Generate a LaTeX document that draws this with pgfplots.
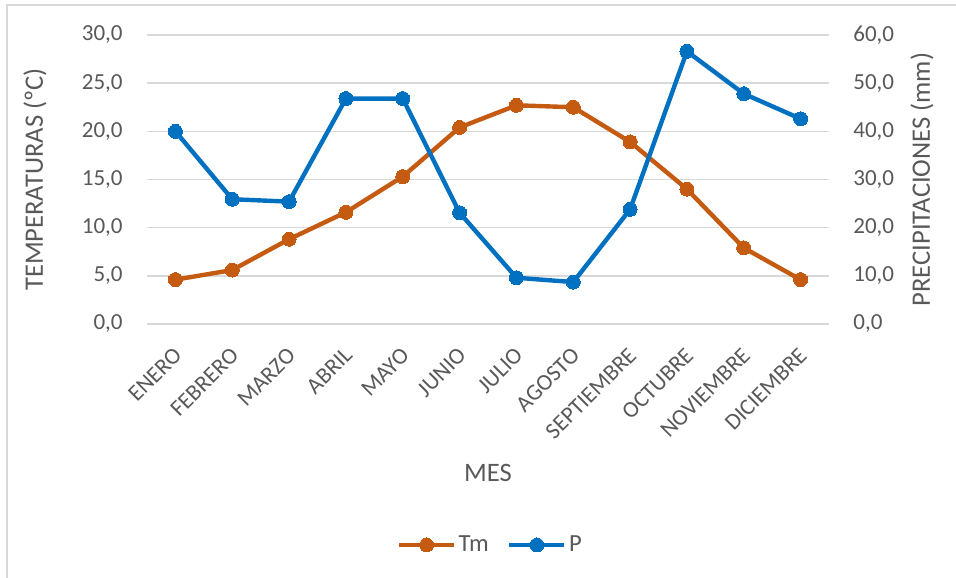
\documentclass[border=0pt]{standalone}
\usepackage{fontspec}
\setmainfont{Carlito}
\usepackage{pgfplots}
\pgfplotsset{compat=1.18}

\definecolor{tmcol}{HTML}{C55A11}
\definecolor{pcol}{HTML}{0070C0}
\definecolor{txtgray}{HTML}{595959}
\definecolor{gridgray}{HTML}{D9D9D9}

% Monthly mean temperature (ºC) and precipitation (mm)
\pgfplotstableread{
m  tm    p
0  4.6   40.0
1  5.6   25.9
2  8.8   25.4
3  11.6  46.8
4  15.3  46.8
5  20.4  23.1
6  22.7  9.6
7  22.5  8.7
8  18.9  23.8
9  14.0  56.6
10 7.9   47.8
11 4.6   42.6
}\climate

\pgfplotsset{
  climbase/.style={
    scale only axis,
    width=341bp, height=144.5bp,
    at={(73.5bp,127bp)}, anchor=south west,
    xmin=-0.5, xmax=11.5,
    major tick length=0pt,
    axis line style={draw=none},
    tick label style={font=\fontsize{11.5bp}{13bp}\selectfont, text=txtgray},
    label style={font=\fontsize{13.3bp}{15bp}\selectfont, text=txtgray},
    /pgf/number format/.cd, fixed, fixed zerofill, precision=1, use comma, assume math mode=true,
  },
  tmline/.style={tmcol, line width=2.2bp, mark=*, mark size=3.5bp, mark options={fill=tmcol, draw=tmcol, line width=0pt}},
  pline/.style={pcol, line width=2.2bp, mark=*, mark size=3.5bp, mark options={fill=pcol, draw=pcol, line width=0pt}},
}

\begin{document}
\begin{tikzpicture}[x=0.5bp,y=0.5bp]
\useasboundingbox (0,0) rectangle (956,578);
\fill[white] (0,0) rectangle (956,578);
\draw[gridgray, line width=0.8bp] (7,0) -- (7,573) -- (956,573);

% left axis: temperature
\begin{axis}[climbase,
  ymin=0, ymax=30, ytick={0,5,...,30},
  ymajorgrids, grid style={gridgray, line width=0.75bp},
  xtick={0,...,11},
  xticklabels={ENERO,FEBRERO,MARZO,ABRIL,MAYO,JUNIO,JULIO,AGOSTO,SEPTIEMBRE,OCTUBRE,NOVIEMBRE,DICIEMBRE},
  xticklabel style={xshift=-1.5bp, yshift=-11bp, rotate=45, anchor=north east, inner sep=0pt},
  yticklabel style={inner sep=0pt, xshift=-12bp},
  xlabel={MES},
  xlabel style={at={(axis description cs:0.5,-0.5156)}, anchor=center},
  ylabel={TEMPERATURAS (ºC)},
  ylabel style={at={(axis description cs:-0.1642,0.5)}, anchor=center},
]
\addplot[tmline] table[x=m, y=tm] {\climate};
\end{axis}

% right axis: precipitation
\begin{axis}[climbase,
  ymin=0, ymax=60, ytick={0,10,...,60},
  axis y line*=right, axis x line=none,
  xtick=\empty,
  yticklabel style={inner sep=0pt, xshift=12bp},
  ylabel={PRECIPITACIONES (mm)},
  ylabel style={at={(axis description cs:1.1364,0.5)}, anchor=center},
  legend columns=2,
  legend style={draw=none, fill=none, at={(axis description cs:0.5037,-0.7647)}, anchor=center,
    font=\fontsize{12.3bp}{14bp}\selectfont, text=txtgray,
    /tikz/every even column/.append style={column sep=8bp},
    nodes={inner sep=1.2bp}},
  legend image code/.code={
    \draw[mark repeat=2, mark phase=2, #1] plot coordinates {(0bp,0bp) (13.75bp,0bp) (27.5bp,0bp)};
  },
]
\addlegendimage{tmline}
\addlegendentry{Tm}
\addplot[pline] table[x=m, y=p] {\climate};
\addlegendentry{P}
\end{axis}
\end{tikzpicture}
\end{document}
